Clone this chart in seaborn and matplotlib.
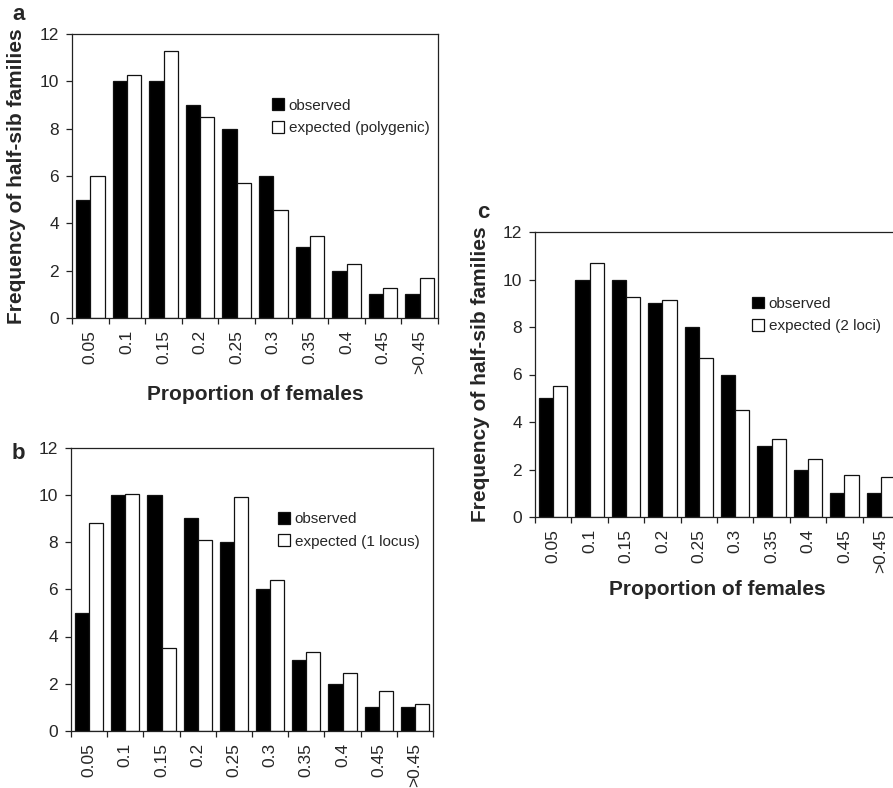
import matplotlib
matplotlib.use("Agg")
import matplotlib.pyplot as plt
from matplotlib.ticker import FixedLocator
import seaborn as sns
import pandas as pd

bins = ["0.05", "0.1", "0.15", "0.2", "0.25", "0.3", "0.35", "0.4", "0.45", ">0.45"]
observed = [5, 10, 10, 9, 8, 6, 3, 2, 1, 1]
expected_polygenic = [6.0, 10.25, 11.3, 8.5, 5.7, 4.55, 3.45, 2.3, 1.25, 1.7]
expected_1locus = [8.8, 10.05, 3.5, 8.1, 9.9, 6.4, 3.35, 2.45, 1.7, 1.15]
expected_2loci = [5.5, 10.7, 9.25, 9.15, 6.7, 4.5, 3.3, 2.45, 1.75, 1.7]

sns.set_style("ticks")
plt.rcParams["font.family"] = ["Liberation Sans", "DejaVu Sans"]
plt.rcParams["axes.edgecolor"] = "#222222"


def draw_panel(fig, rect, expected, exp_label, letter, letter_xy, ylabel_x, xlabel_y, legend_xy):
    ax = fig.add_axes(rect)
    df = pd.DataFrame({
        "bin": bins * 2,
        "count": observed + expected,
        "series": ["observed"] * len(bins) + [exp_label] * len(bins),
    })
    sns.barplot(data=df, x="bin", y="count", hue="series",
                hue_order=["observed", exp_label], order=bins,
                palette=["black", "white"], edgecolor="#111111", linewidth=0.9,
                width=0.78, errorbar=None, ax=ax)

    ax.set_xlim(-0.5, len(bins) - 0.5)
    ax.set_ylim(0, 12)
    ax.set_yticks(range(0, 13, 2))
    ax.tick_params(axis="y", labelsize=12.5, length=4.5, width=0.9, pad=5, color="#222222")
    ax.tick_params(axis="x", which="major", labelsize=12.5, length=0, pad=8.5, labelrotation=90)
    ax.xaxis.set_minor_locator(FixedLocator([i - 0.5 for i in range(len(bins) + 1)]))
    ax.tick_params(axis="x", which="minor", length=4, width=0.9, color="#222222")
    for s in ax.spines.values():
        s.set_linewidth(0.9)

    if ylabel_x is not None:
        ax.set_ylabel("Frequency of half-sib families", fontsize=15, fontweight="bold")
        ax.yaxis.set_label_coords(ylabel_x, 0.5)
    else:
        ax.set_ylabel("")
    if xlabel_y is not None:
        ax.set_xlabel("Proportion of females", fontsize=15, fontweight="bold")
        ax.xaxis.set_label_coords(0.5, xlabel_y)
    else:
        ax.set_xlabel("")

    handles, labels = ax.get_legend_handles_labels()
    ax.legend(handles, labels, frameon=False, fontsize=11, loc="upper left",
              bbox_to_anchor=legend_xy, borderpad=0, handlelength=0.8,
              handleheight=0.8, handletextpad=0.3, labelspacing=0.55)

    fig.text(letter_xy[0] / 893, 1 - letter_xy[1] / 788, letter,
             fontsize=16, fontweight="bold", ha="left", va="baseline")
    return ax


fig = plt.figure(figsize=(8.93, 7.88), dpi=100)

draw_panel(fig, [72 / 893, 1 - 318 / 788, 366 / 893, 284 / 788],
           expected_polygenic, "expected (polygenic)", "a", (12, 20),
           -0.125, -0.235, (0.525, 0.80))
draw_panel(fig, [71 / 893, 1 - 731 / 788, 362 / 893, 283.5 / 788],
           expected_1locus, "expected (1 locus)", "b", (12, 459),
           None, None, (0.55, 0.80))
draw_panel(fig, [535 / 893, 1 - 517 / 788, 364 / 893, 285 / 788],
           expected_2loci, "expected (2 loci)", "c", (477, 218),
           -0.123, -0.222, (0.575, 0.80))

fig.savefig("out.png", dpi=100)
